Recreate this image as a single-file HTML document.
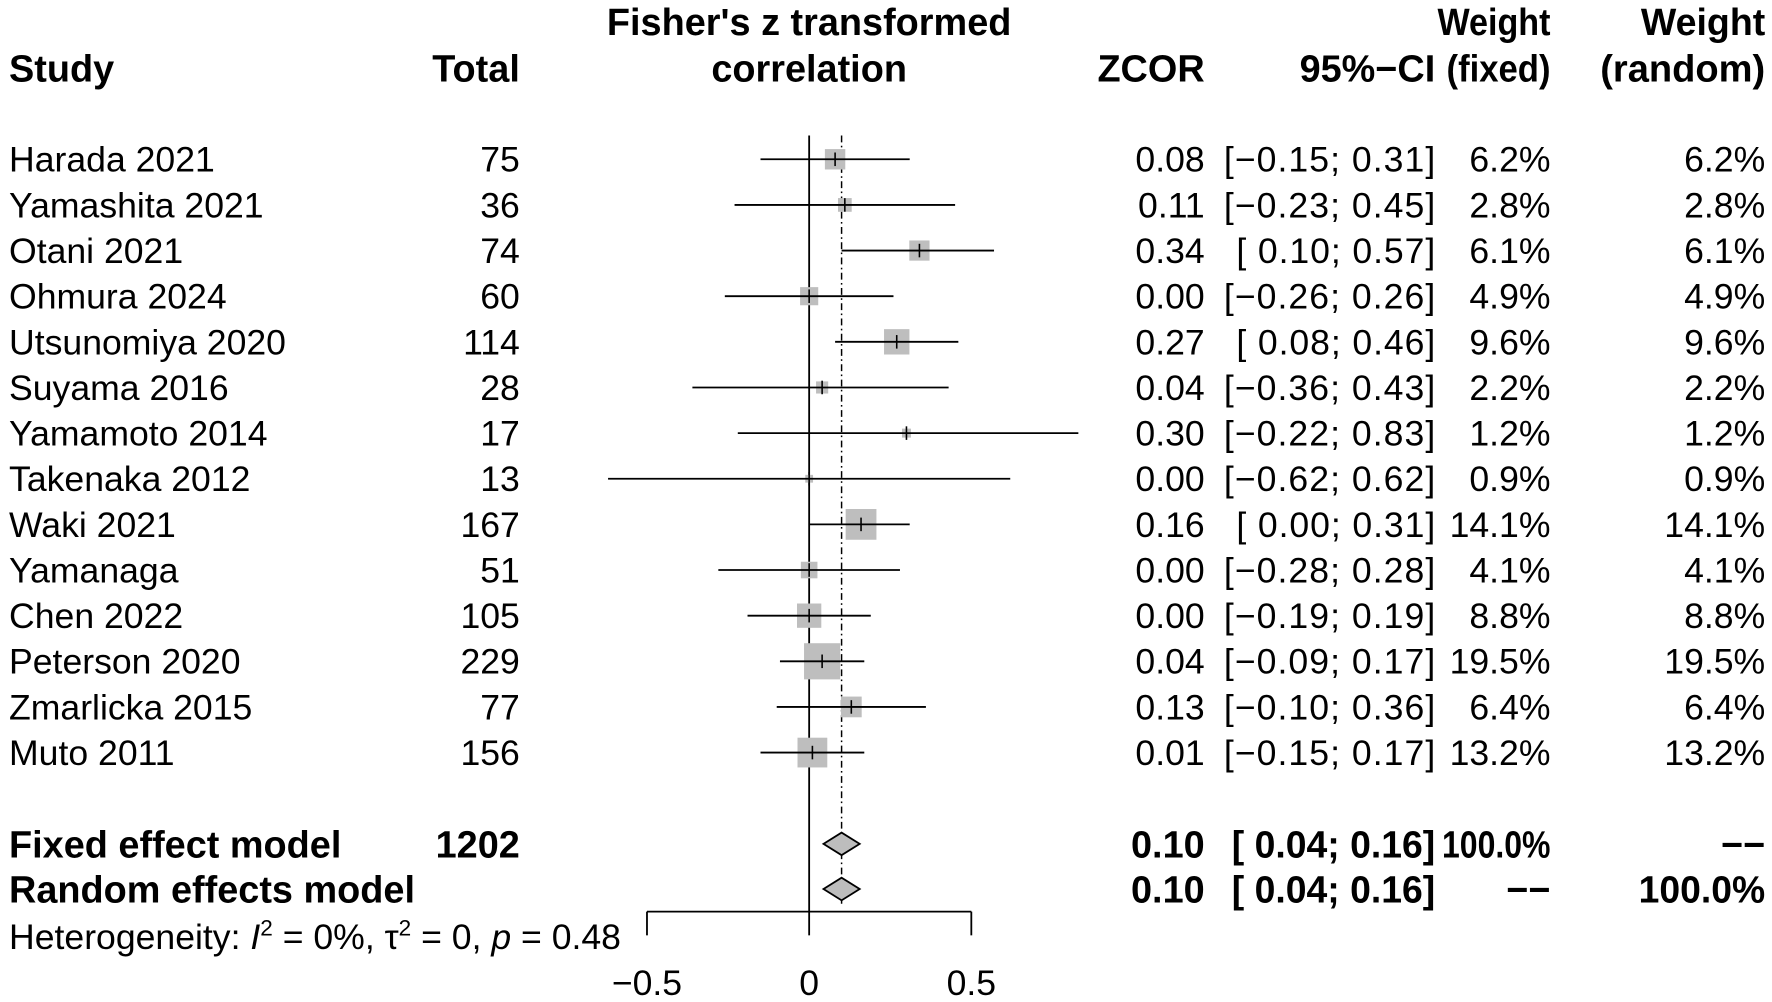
<!DOCTYPE html>
<html><head><meta charset="utf-8"><style>
html,body{margin:0;padding:0;background:#fff;}
svg{display:block;}
text{font-family:"Liberation Sans",sans-serif;font-size:31.5px;fill:#000;}
.b{font-weight:bold;font-size:33.5px;}
.r{text-anchor:end;}
.m{text-anchor:middle;}
</style></head><body>
<svg width="1772" height="1002" viewBox="0 0 1568 887" preserveAspectRatio="none" xmlns="http://www.w3.org/2000/svg">
<rect width="1568" height="887" fill="#fff"/>
<text class="b m" x="716" y="31">Fisher's z transformed</text>
<text class="b m" x="716" y="72">correlation</text>
<text class="b" x="8" y="72">Study</text>
<text class="b r" x="460" y="72">Total</text>
<text class="b r" x="1066" y="72">ZCOR</text>
<text class="b r" x="1270" y="72" textLength="120" lengthAdjust="spacingAndGlyphs">95%−CI</text>
<text class="b r" x="1372" y="31" textLength="100" lengthAdjust="spacingAndGlyphs">Weight</text>
<text class="b r" x="1372" y="72" textLength="92" lengthAdjust="spacingAndGlyphs">(fixed)</text>
<text class="b r" x="1562" y="31" textLength="110" lengthAdjust="spacingAndGlyphs">Weight</text>
<text class="b r" x="1562" y="72" textLength="146" lengthAdjust="spacingAndGlyphs">(random)</text>
<line x1="716" y1="120" x2="716" y2="807" stroke="#000" stroke-width="1.6"/>
<line x1="744.7" y1="120" x2="744.7" y2="800" stroke="#000" stroke-width="1.3" stroke-dasharray="6,3,1.5,3"/>
<g id="rows"></g>
<text class="b" x="8" y="759">Fixed effect model</text>
<text class="b r" x="460" y="759">1202</text>
<text class="b r" x="1066" y="759">0.10</text>
<text class="b r" x="1270" y="759" textLength="180" lengthAdjust="spacingAndGlyphs" xml:space="preserve">[ 0.04; 0.16]</text>
<text class="b r" x="1372" y="759" textLength="96" lengthAdjust="spacingAndGlyphs">100.0%</text>
<text class="b r" x="1562" y="759">−−</text>
<text class="b" x="8" y="799">Random effects model</text>
<text class="b r" x="1066" y="799">0.10</text>
<text class="b r" x="1270" y="799" textLength="180" lengthAdjust="spacingAndGlyphs" xml:space="preserve">[ 0.04; 0.16]</text>
<text class="b r" x="1372" y="799">−−</text>
<text class="b r" x="1562" y="799" textLength="112" lengthAdjust="spacingAndGlyphs">100.0%</text>
<polygon points="728.7,747 744.7,737 760.7,747 744.7,757" fill="#bdbdbd" stroke="#000" stroke-width="1.6"/>
<polygon points="728.7,787 744.7,777 760.7,787 744.7,797" fill="#bdbdbd" stroke="#000" stroke-width="1.6"/>
<text x="8" y="840">Heterogeneity: <tspan font-style="italic">I</tspan><tspan dy="-12" font-size="20">2</tspan><tspan dy="12"> = 0%, τ</tspan><tspan dy="-12" font-size="20">2</tspan><tspan dy="12"> = 0, </tspan><tspan font-style="italic">p</tspan> = 0.48</text>
<line x1="572.5" y1="807" x2="859.5" y2="807" stroke="#000" stroke-width="1.6"/>
<line x1="572.5" y1="807" x2="572.5" y2="828" stroke="#000" stroke-width="1.6"/>
<line x1="716" y1="807" x2="716" y2="828" stroke="#000" stroke-width="1.6"/>
<line x1="859.5" y1="807" x2="859.5" y2="828" stroke="#000" stroke-width="1.6"/>
<text class="m" x="572.5" y="881">−0.5</text>
<text class="m" x="716" y="881">0</text>
<text class="m" x="859.5" y="881">0.5</text>
</svg>
<script>
const d=[["Harada 2021",75,0.08,-0.15,0.31,"6.2%"],["Yamashita 2021",36,0.11,-0.23,0.45,"2.8%"],["Otani 2021",74,0.34,0.10,0.57,"6.1%"],["Ohmura 2024",60,0.00,-0.26,0.26,"4.9%"],["Utsunomiya 2020",114,0.27,0.08,0.46,"9.6%"],["Suyama 2016",28,0.04,-0.36,0.43,"2.2%"],["Yamamoto 2014",17,0.30,-0.22,0.83,"1.2%"],["Takenaka 2012",13,0.00,-0.62,0.62,"0.9%"],["Waki 2021",167,0.16,0.00,0.31,"14.1%"],["Yamanaga",51,0.00,-0.28,0.28,"4.1%"],["Chen 2022",105,0.00,-0.19,0.19,"8.8%"],["Peterson 2020",229,0.04,-0.09,0.17,"19.5%"],["Zmarlicka 2015",77,0.13,-0.10,0.36,"6.4%"],["Muto 2011",156,0.01,-0.15,0.17,"13.2%"]];
const X=v=>716+287*v,f=v=>(v<0?"−":"")+Math.abs(v).toFixed(2);
let s="";
d.forEach((r,i)=>{const y=141+i*40.4,bl=y+11;const w=parseFloat(r[5]);const sz=7.25*Math.sqrt(w);
const neg=r[3]<0;const ci=neg?`[−${Math.abs(r[3]).toFixed(2)}; ${r[4].toFixed(2)}]`:`[ ${r[3].toFixed(2)}; ${r[4].toFixed(2)}]`;
const tl=neg?187:176;
s+=`<text x="8" y="${bl}">${r[0]}</text><text class="r" x="460" y="${bl}">${r[1]}</text><text class="r" x="1066" y="${bl}">${f(r[2])}</text><text class="r" x="1270" y="${bl}" xml:space="preserve" textLength="${tl}" lengthAdjust="spacing">${ci}</text><text class="r" x="1372" y="${bl}">${r[5]}</text><text class="r" x="1562" y="${bl}">${r[5]}</text>`;
s+=`<rect x="${X(r[2])-sz/2}" y="${y-sz/2}" width="${sz}" height="${sz}" fill="#bebebe"/>`;
s+=`<line x1="${X(r[3])}" y1="${y}" x2="${X(r[4])}" y2="${y}" stroke="#000" stroke-width="1.6"/><line x1="${X(r[2])}" y1="${y-6}" x2="${X(r[2])}" y2="${y+6}" stroke="#000" stroke-width="1.4"/>`;});
document.getElementById("rows").innerHTML=s;
</script>
</body></html>
